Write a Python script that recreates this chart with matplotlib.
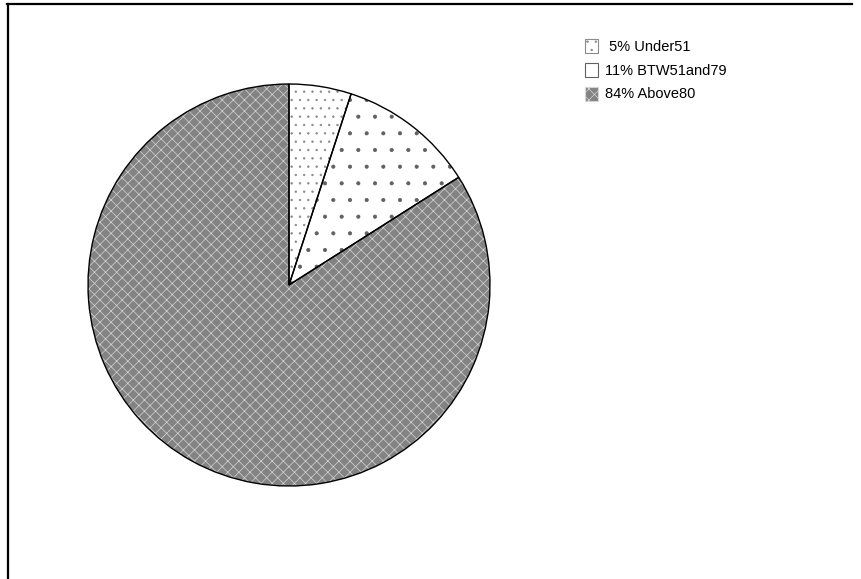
import matplotlib
matplotlib.use("Agg")
import matplotlib.pyplot as plt
from matplotlib.patches import Patch
from matplotlib.lines import Line2D

plt.rcParams['font.family'] = ['Liberation Sans', 'DejaVu Sans']
plt.rcParams['hatch.linewidth'] = 0.5

# Share of records in each group
labels = ['Under51', 'BTW51and79', 'Above80']
shares = [5, 11, 84]
legend_text = [' 5% Under51', '11% BTW51and79', '84% Above80']

# fill / hatch styling per slice
faces = ['white', 'white', '#838383']
hatches = ['..', '.', 'xxx']
hatch_colors = ['#8a8a8a', '#606060', '#d4d4d4']

W, H = 861, 579
fig = plt.figure(figsize=(W / 100, H / 100), dpi=100)

# pie centre (289, 285) px, radius 203 px
cx, cy, r = 289, 285, 203
ax = fig.add_axes([(cx - r) / W, (H - cy - r) / H, 2 * r / W, 2 * r / H])
ax.axis('off')

# hatched fills first, then black outlines on top
fills, _ = ax.pie(shares, startangle=90, counterclock=False, radius=1,
                  wedgeprops=dict(linewidth=0))
for w, fc, h, hc in zip(fills, faces, hatches, hatch_colors):
    w.set_facecolor(fc)
    w.set_hatch(h)
    w.set_edgecolor(hc)
ax.pie(shares, startangle=90, counterclock=False, radius=1,
       wedgeprops=dict(facecolor='none', edgecolor='black', linewidth=1))
ax.set_xlim(-1.01, 1.01)
ax.set_ylim(-1.01, 1.01)

# legend
handles = []
for fc, h, hc in zip(faces, hatches, hatch_colors):
    handles.append(Patch(facecolor=fc, hatch=h, edgecolor=hc))
leg = fig.legend(handles, legend_text, loc='upper left',
                 bbox_to_anchor=(572 / W, 1 - 26 / H), frameon=False,
                 fontsize=10.5, handlelength=0.85, handleheight=1.1,
                 handletextpad=0.5, labelspacing=0.6)
for p in leg.get_patches():
    p.set_linewidth(0.8)

# outer frame: left and top edges only
fig.add_artist(Line2D([7.5 / W, 7.5 / W], [0, 1 - 3.5 / H], color='black',
                      linewidth=1.6, transform=fig.transFigure))
fig.add_artist(Line2D([6.7 / W, 852 / W], [1 - 3.5 / H, 1 - 3.5 / H],
                      color='black', linewidth=1.6, transform=fig.transFigure))

fig.savefig('out.png', dpi=100)
